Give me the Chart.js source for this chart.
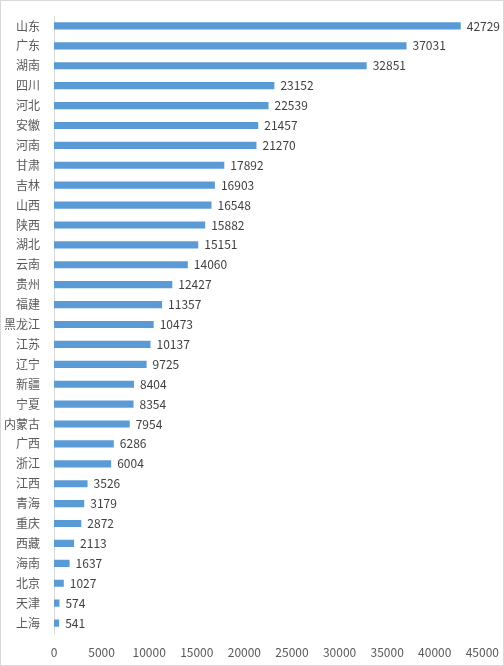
<!DOCTYPE html>
<html>
<head>
<meta charset="utf-8">
<script src="https://cdn.jsdelivr.net/npm/chart.js@4"></script>
<style>
  html, body { margin: 0; padding: 0; background: #fff; }
  .wrap { position: relative; width: 502px; height: 664px; border: 1px solid #d9d9d9; }
</style>
</head>
<body>
<div class="wrap"><canvas id="chart"></canvas></div>
<script>
const provinces = ["山东", "广东", "湖南", "四川", "河北", "安徽", "河南", "甘肃", "吉林", "山西",
  "陕西", "湖北", "云南", "贵州", "福建", "黑龙江", "江苏", "辽宁", "新疆", "宁夏",
  "内蒙古", "广西", "浙江", "江西", "青海", "重庆", "西藏", "海南", "北京", "天津", "上海"];
const counts = [42729, 37031, 32851, 23152, 22539, 21457, 21270, 17892, 16903, 16548,
  15882, 15151, 14060, 12427, 11357, 10473, 10137, 9725, 8404, 8354,
  7954, 6286, 6004, 3526, 3179, 2872, 2113, 1637, 1027, 574, 541];
const xTicks = [0, 5000, 10000, 15000, 20000, 25000, 30000, 35000, 40000, 45000];

const fontFamily = "'Noto Sans CJK SC', 'Liberation Sans', sans-serif";

// value labels at the end of each bar
const barLabels = {
  id: "barLabels",
  afterDatasetsDraw(chart) {
    const ctx = chart.ctx;
    const meta = chart.getDatasetMeta(0);
    ctx.save();
    ctx.font = "12px " + fontFamily;
    ctx.fillStyle = "#404040";
    ctx.textBaseline = "middle";
    ctx.textAlign = "left";
    meta.data.forEach((bar, i) => {
      ctx.fillText(String(counts[i]), bar.x + 6, bar.y);
    });
    ctx.restore();
  }
};

new Chart(document.getElementById("chart"), {
  type: "bar",
  data: {
    labels: provinces,
    datasets: [{
      data: counts,
      backgroundColor: "#5b9bd5",
      barPercentage: 0.36,
      categoryPercentage: 1
    }]
  },
  options: {
    indexAxis: "y",
    responsive: true,
    maintainAspectRatio: false,
    animation: false,
    layout: { padding: { left: 2, top: 15, right: 20, bottom: 4 } },
    plugins: {
      legend: { display: false },
      tooltip: { enabled: false }
    },
    scales: {
      x: {
        min: 0,
        max: 45000,
        afterBuildTicks: s => { s.ticks = xTicks.map(v => ({ value: v })); },
        afterFit: s => { s.height = 28; },
        grid: { display: false },
        border: { display: false },
        ticks: {
          color: "#595959",
          font: { size: 12, family: fontFamily },
          padding: 4,
          callback: v => String(v)
        }
      },
      y: {
        afterFit: s => { s.width = 51; },
        grid: { display: false },
        border: { display: true, color: "#d9d9d9", width: 1 },
        ticks: {
          color: "#595959",
          font: { size: 12, family: fontFamily },
          padding: 6
        }
      }
    }
  },
  plugins: [barLabels]
});
</script>
</body>
</html>
